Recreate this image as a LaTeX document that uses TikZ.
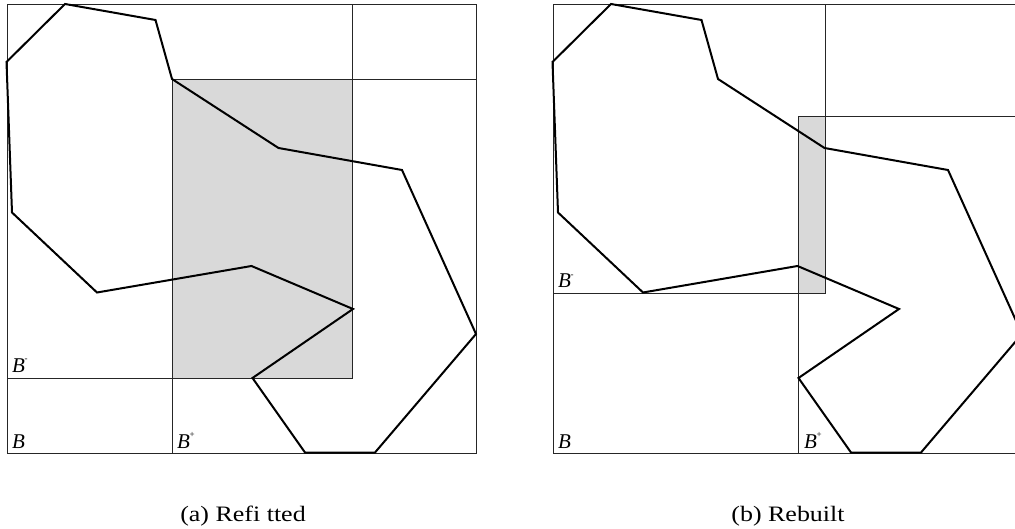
\documentclass[tikz,border=0pt]{standalone}
\usepackage{fontspec}
\setmainfont{Liberation Serif}
\usepackage{graphicx}
\usepackage{tikz}

% italic B with a small mark on its top right
\newcommand{\bname}[1]{\textit{B}\kern-0.5pt\raisebox{0.5em}{\fontsize{9}{9}\selectfont #1}}

\begin{document}
\begin{tikzpicture}[x=1pt,y=-1pt,
    region/.style={draw=black!85,line width=0.9pt},
    overlap/.style={fill=black!15},
    outline/.style={draw=black,line width=2pt,line join=miter},
    blabel/.style={anchor=base west,inner sep=0pt,font=\fontsize{21}{24}\selectfont},
    capt/.style={anchor=base,inner sep=0pt,font=\fontsize{22}{26}\selectfont}]
            \useasboundingbox (0,0) rectangle (1015,529);
            \clip (0,0) rectangle (1015,529);

            % (a) shaded overlap, then the boxes
            \fill[overlap] (172,79) rectangle (352,378);
            \draw[region] (7,4) rectangle (476,453);
            \draw[region] (7,4) rectangle (352,378);
            \draw[region] (172,79) rectangle (476,453);

            % (b) shaded overlap, then the boxes
            \fill[overlap] (798,116) rectangle (825,293);
            \draw[region] (553,4) rectangle (1022,453);
            \draw[region] (553,4) rectangle (825,293);
            \draw[region] (798,116) rectangle (1022,453);

            % Same polygon in both panels
            \foreach \dx in {0,546} {
                \begin{scope}[xshift=\dx]
                \draw[outline] (6.5,62) -- (65,4) -- (155.5,20) -- (172,79)
                    -- (278.5,148) -- (402,170) -- (476,334) -- (375,452.5)
                    -- (305,452.5) -- (252.5,378) -- (353,309) -- (251.5,266)
                    -- (97,292.5) -- (12,212.5) -- cycle;
                \end{scope}
            }

            % Box names
            \node[blabel] (a-bm) at (12,372) {\bname{-}};
            \node[blabel] (a-b) at (12,448) {\bname{}};
            \node[blabel] (a-bp) at (177,448) {\bname{+}};
            \node[blabel] (b-bm) at (558,288) {\bname{-}};
            \node[blabel] (b-b) at (558,448) {\bname{}};
            \node[blabel] (b-bp) at (804,448) {\bname{+}};

            % Captions
            \node[capt] (cap-a) at (243,521) {\scalebox{1.18}[1]{(a) Refi tted}};
            \node[capt] (cap-b) at (788,521) {\scalebox{1.18}[1]{(b) Rebuilt}};
\end{tikzpicture}
\end{document}
